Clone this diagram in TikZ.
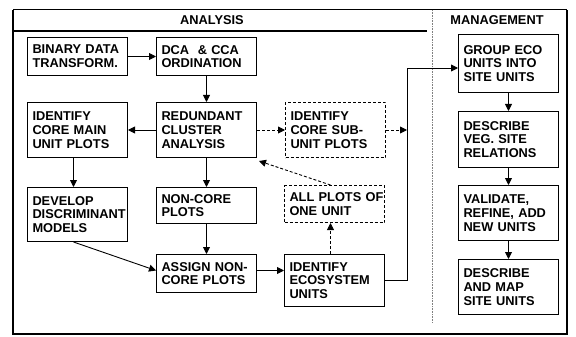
\documentclass[tikz,border=0pt]{standalone}
\usepackage{fontspec}
\setmainfont{Liberation Sans}
\usetikzlibrary{arrows.meta,calc}
\hyphenpenalty=10000
\exhyphenpenalty=10000
\begin{document}
\begin{tikzpicture}[x=1pt,y=-1pt,
  box/.style={draw,line width=1pt,minimum width=100pt,inner xsep=5pt,inner ysep=2pt,
    text width=90pt,align=left,anchor=north west,
    font=\fontsize{12.8}{13.8}\selectfont\bfseries},
  dbox/.style={box,dash pattern=on 3pt off 2pt},
  arr/.style={line width=0.9pt,-{Triangle[length=7pt,width=7pt]}},
  darr/.style={arr,dash pattern=on 3pt off 2pt},
  head/.style={font=\fontsize{12.8}{13.8}\selectfont\bfseries}]
\useasboundingbox (0,0) rectangle (576,337);
% frame
\draw[line width=1.3pt] (13,10) -- (13,334) -- (567,334) -- (567,10);
\draw[line width=1.8pt] (13,9.5) -- (567,9.5);
\draw[line width=1.6pt] (13,31) -- (427,31);
\draw[densely dotted,line width=0.6pt,gray] (432,10) -- (432,323);
\node[head] (hA) at (212,20) {ANALYSIS};
\node[head] (hM) at (497,20) {MANAGEMENT};
% boxes
\node[box,minimum height=38pt] (bin) at (27,37) {BINARY~DATA\\TRANSFORM.};
\node[box,minimum height=38pt] (dca) at (156,37) {DCA\ \ \&~CCA\\ORDINATION};
\node[box,minimum height=55pt] (core) at (27,102) {IDENTIFY\\CORE~MAIN\\UNIT~PLOTS};
\node[box,minimum height=55pt] (red) at (156,102) {REDUNDANT\\CLUSTER\\ANALYSIS};
\node[dbox,minimum height=55pt] (sub) at (285,102) {IDENTIFY\\CORE~SUB-\\UNIT~PLOTS};
\node[box,minimum height=54pt] (dev) at (27,187) {DEVELOP\\DISCRIMINANT\\MODELS};
\node[box,minimum height=36pt] (nc) at (156,187) {NON-CORE\\PLOTS};
\node[box,minimum height=38pt] (asg) at (156,254) {ASSIGN~NON-\\CORE~PLOTS};
\node[dbox,minimum height=37pt] (all) at (284,185) {ALL~PLOTS~OF\\ONE~UNIT};
\node[box,minimum height=52pt] (eco) at (284,254) {IDENTIFY\\ECOSYSTEM\\UNITS};
\node[box,minimum height=58pt] (grp) at (458,34) {GROUP~ECO\\UNITS~INTO\\SITE~UNITS};
\node[box,minimum height=56pt] (veg) at (458,111) {DESCRIBE\\VEG.~SITE\\RELATIONS};
\node[box,minimum height=55pt] (val) at (458,185) {VALIDATE,\\REFINE,~ADD\\NEW~UNITS};
\node[box,minimum height=55pt] (map) at (458,259) {DESCRIBE\\AND~MAP\\SITE~UNITS};
% connectors
\coordinate (jn) at (407,130);
\coordinate (up) at (407,68);
\draw[arr] (bin) -- (dca);
\draw[arr] (dca) -- (red);
\draw[arr] (red) -- (core);
\draw[darr] (red) -- (sub);
\draw[darr] (sub.east) -- (jn);
\draw[line width=0.9pt] (eco.east) -| (up);
\draw[arr] (up) -- (grp.west |- up);
\draw[arr] ([xshift=-4pt]core.south) -- ([xshift=-4pt]dev.north);
\draw[arr] (red) -- (nc);
\draw[arr] (nc) -- (asg);
\draw[arr] ([xshift=-4pt]dev.south) -- ([yshift=3pt]asg.west);
\draw[arr] ([yshift=3pt]asg.east) -- ([yshift=3pt]eco.west |- asg.east);
\draw[darr] ([xshift=-4pt]eco.north) -- ([xshift=-4pt]all.south);
\draw[darr] ([xshift=-4pt]all.north) -- ([shift={(2pt,-3pt)}]red.south east);
\draw[arr] (grp) -- (veg);
\draw[arr] (veg) -- (val);
\draw[arr] (val) -- (map);
\end{tikzpicture}
\end{document}
